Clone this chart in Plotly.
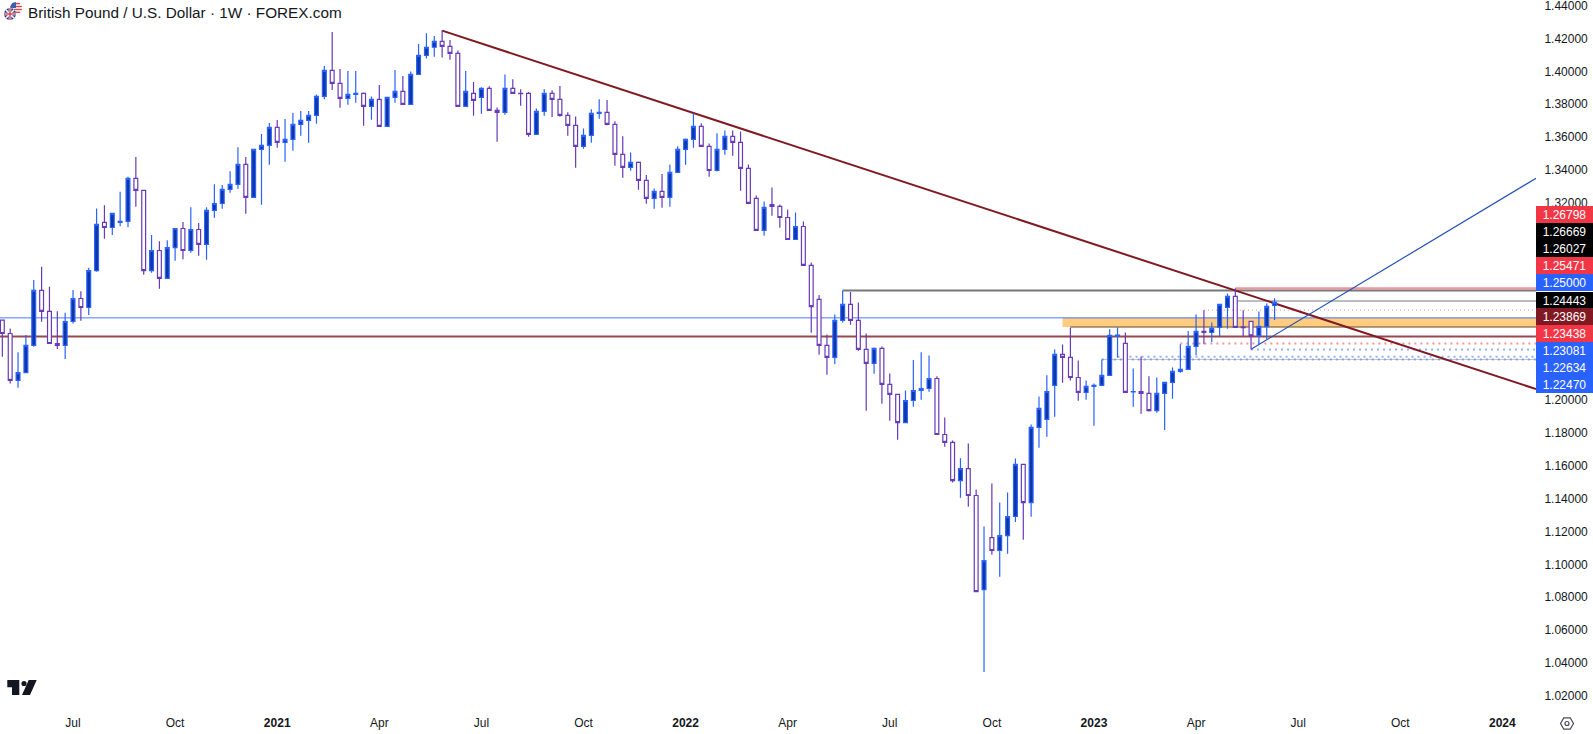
import math
import plotly.graph_objects as go
import pandas as pd

FIRST_WEEK = "2020-05-04"
opens = [
1.2486,1.2405,1.2119,1.2167,1.2332,1.2667,1.2539,1.2344,1.2332,1.2478,
1.2618,1.2563,1.2788,1.3081,1.3050,1.3081,1.3087,1.3349,1.3276,1.2788,
1.2910,1.2740,1.2928,1.3044,1.2910,1.3038,1.2947,1.3154,1.3196,1.3282,
1.3312,1.3434,1.3233,1.3525,1.3550,1.3659,1.3568,1.3586,1.3678,1.3702,
1.3732,1.3848,1.4006,1.3927,1.3836,1.3860,1.3866,1.3787,1.3830,1.3665,
1.3842,1.3879,1.3799,1.3982,1.4098,1.4147,1.4183,1.4153,1.4110,1.3787,
1.3866,1.3842,1.3897,1.3763,1.3751,1.3897,1.3866,1.3866,1.3617,1.3757,
1.3866,1.3830,1.3732,1.3672,1.3544,1.3611,1.3745,1.3751,1.3678,1.3495,
1.3416,1.3446,1.3337,1.3227,1.3270,1.3233,1.3385,1.3525,1.3586,1.3665,
1.3544,1.3397,1.3525,1.3605,1.3568,1.3410,1.3227,1.3032,1.3190,1.3178,
1.3111,1.2977,1.3056,1.2819,1.2612,1.2332,1.2259,1.2485,1.2582,1.2485,
1.2308,1.2223,1.2314,1.2095,1.2034,1.1863,1.1997,1.2058,1.2070,1.2131,
1.1790,1.1742,1.1510,1.1583,1.1419,1.0846,1.1163,1.1084,1.1175,1.1291,
1.1608,1.1376,1.1833,1.1882,1.2089,1.2278,1.2259,1.2137,1.2046,1.2083,
1.2089,1.2150,1.2389,1.2345,1.2050,1.2052,1.2040,1.1936,1.2040,1.2107,
1.2174,1.2186,1.2326,1.2418,1.2411,1.2442,1.2564,1.2631,1.2446,1.2479,
1.2391,1.2446,1.2576,
]
highs = [
1.2486,1.2435,1.2291,1.2395,1.2730,1.2811,1.2689,1.2541,1.2531,1.2669,
1.2662,1.2805,1.3166,1.3186,1.3136,1.3267,1.3359,1.3479,1.3276,1.3004,
1.2967,1.2973,1.3044,1.3083,1.3174,1.3077,1.3174,1.3314,1.3308,1.3393,
1.3539,1.3479,1.3525,1.3619,1.3686,1.3704,1.3710,1.3747,1.3759,1.3759,
1.3860,1.4033,1.4240,1.4015,1.4002,1.4002,1.3872,1.3848,1.3917,1.3842,
1.4008,1.3972,1.4000,1.4167,1.4232,1.4216,1.4250,1.4191,1.4128,1.4002,
1.3935,1.3903,1.3909,1.3781,1.3982,1.3952,1.3891,1.3875,1.3775,1.3891,
1.3885,1.3911,1.3751,1.3726,1.3653,1.3769,1.3830,1.3826,1.3696,1.3605,
1.3507,1.3452,1.3369,1.3288,1.3375,1.3434,1.3544,1.3592,1.3745,1.3684,
1.3562,1.3623,1.3641,1.3641,1.3635,1.3434,1.3245,1.3209,1.3294,1.3190,
1.3160,1.3142,1.3087,1.2837,1.2639,1.2399,1.2521,1.2667,1.2657,1.2594,
1.2405,1.2320,1.2326,1.2162,1.2034,1.2058,1.2243,1.2290,1.2271,1.2144,
1.1894,1.1754,1.1646,1.1736,1.1455,1.1230,1.1492,1.1376,1.1437,1.1644,
1.1608,1.1851,1.2022,1.2150,1.2308,1.2338,1.2442,1.2241,1.2119,1.2101,
1.2247,1.2430,1.2442,1.2411,1.2192,1.2265,1.2144,1.2137,1.2107,1.2198,
1.2340,1.2420,1.2521,1.2546,1.2472,1.2582,1.2649,1.2680,1.2547,1.2479,
1.2539,1.2588,1.2619,
]
lows = [
1.2263,1.2100,1.2074,1.2167,1.2324,1.2476,1.2344,1.2311,1.2250,1.2466,
1.2482,1.2518,1.2780,1.2981,1.3004,1.3058,1.3052,1.3176,1.2762,1.2774,
1.2677,1.2740,1.2847,1.2857,1.2896,1.2878,1.2853,1.3109,1.3164,1.3261,
1.3286,1.3134,1.3233,1.3188,1.3432,1.3535,1.3450,1.3517,1.3608,1.3566,
1.3682,1.3830,1.3887,1.3779,1.3797,1.3810,1.3669,1.3706,1.3665,1.3665,
1.3810,1.3799,1.3799,1.3982,1.4078,1.4090,1.4084,1.4071,1.3787,1.3787,
1.3730,1.3743,1.3763,1.3572,1.3737,1.3866,1.3791,1.3603,1.3617,1.3730,
1.3722,1.3724,1.3609,1.3414,1.3529,1.3566,1.3712,1.3672,1.3426,1.3353,
1.3395,1.3280,1.3195,1.3164,1.3170,1.3176,1.3385,1.3432,1.3535,1.3544,
1.3359,1.3391,1.3493,1.3487,1.3274,1.3197,1.3032,1.3000,1.3121,1.3048,
1.2977,1.2977,1.2819,1.2409,1.2276,1.2154,1.2217,1.2472,1.2458,1.2300,
1.1934,1.2160,1.1977,1.1874,1.1758,1.1863,1.1959,1.2001,1.2050,1.1790,
1.1715,1.1498,1.1405,1.1350,1.0834,1.0345,1.1058,1.0924,1.1064,1.1258,
1.1149,1.1289,1.1709,1.1776,1.1898,1.2105,1.2119,1.1995,1.2001,1.1843,
1.2089,1.2150,1.2259,1.2046,1.1959,1.1916,1.1930,1.1922,1.1817,1.2008,
1.2166,1.2186,1.2273,1.2340,1.2353,1.2387,1.2434,1.2442,1.2389,1.2308,
1.2340,1.2369,1.2487,
]
closes = [
1.2405,1.2119,1.2167,1.2332,1.2667,1.2539,1.2344,1.2332,1.2478,1.2618,
1.2563,1.2788,1.3069,1.3050,1.3136,1.3087,1.3349,1.3276,1.2788,1.2910,
1.2740,1.2928,1.3044,1.2910,1.3038,1.2947,1.3154,1.3196,1.3282,1.3312,
1.3434,1.3233,1.3525,1.3550,1.3659,1.3568,1.3586,1.3678,1.3702,1.3732,
1.3848,1.4006,1.3927,1.3836,1.3860,1.3866,1.3787,1.3830,1.3665,1.3842,
1.3878,1.3799,1.3982,1.4098,1.4147,1.4183,1.4153,1.4110,1.3787,1.3879,
1.3824,1.3897,1.3763,1.3751,1.3897,1.3866,1.3864,1.3617,1.3757,1.3866,
1.3830,1.3732,1.3672,1.3544,1.3611,1.3745,1.3751,1.3678,1.3495,1.3416,
1.3446,1.3337,1.3227,1.3270,1.3233,1.3385,1.3525,1.3586,1.3665,1.3544,
1.3397,1.3525,1.3605,1.3568,1.3410,1.3197,1.3032,1.3172,1.3178,1.3111,
1.2977,1.3056,1.2819,1.2569,1.2332,1.2259,1.2485,1.2582,1.2485,1.2308,
1.2223,1.2314,1.2095,1.2034,1.1863,1.1997,1.2058,1.2070,1.2131,1.1790,
1.1742,1.1510,1.1583,1.1419,1.0834,1.1023,1.1084,1.1175,1.1291,1.1608,
1.1376,1.1833,1.1949,1.2052,1.2278,1.2259,1.2137,1.2046,1.2083,1.2089,
1.2150,1.2393,1.2395,1.2046,1.2052,1.2040,1.1936,1.2040,1.2107,1.2174,
1.2186,1.2326,1.2418,1.2411,1.2436,1.2582,1.2631,1.2442,1.2440,1.2391,
1.2448,1.2570,1.2594,
]
weeks = pd.date_range(FIRST_WEEK, periods=len(opens), freq="7D").strftime("%Y-%m-%d").tolist()

y_tick_labels = ["1.02000","1.04000","1.06000","1.08000","1.10000","1.12000","1.14000","1.16000","1.18000","1.20000",
                 "1.32000","1.34000","1.36000","1.38000","1.40000","1.42000","1.44000"]
y_tick_values = [float(t) for t in y_tick_labels]
x_tick_dates = ["2020-07-06","2020-10-05","2021-01-04","2021-04-05","2021-07-05","2021-10-04",
                "2022-01-03","2022-04-04","2022-07-04","2022-10-03","2023-01-02","2023-04-03",
                "2023-07-03","2023-10-02","2024-01-01"]
x_tick_labels = ["Jul","Oct","<b>2021</b>","Apr","Jul","Oct","<b>2022</b>","Apr","Jul","Oct",
                 "<b>2023</b>","Apr","Jul","Oct","<b>2024</b>"]

X_START = "2020-05-01 22:00"
X_END = "2024-01-31"
Y_TOP, Y_BOTTOM = 1.44347, 1.01194

level_values = [1.26798, 1.26669, 1.26027, 1.25471, 1.25000, 1.24443, 1.23869, 1.23438, 1.23081, 1.22634, 1.22470, 1.22470]
level_starts = ["2023-05-08","2022-05-23","2023-05-10","2023-04-10",X_START,"2022-12-12",X_START,
                "2023-03-20","2023-05-22","2023-01-23","2023-01-09","2023-01-09"]
level_colors = ["rgba(242,54,69,0.55)","#787878","#787b86","rgba(242,54,69,0.6)","rgba(41,98,255,0.85)",
                "rgba(120,90,50,0.75)","rgba(128,25,34,0.8)","rgba(242,54,69,0.55)","rgba(41,98,255,0.5)",
                "rgba(41,98,255,0.5)","rgba(41,98,255,0.5)","rgba(120,123,134,0.45)"]
level_widths = [2, 2, 1, 1, 1, 1.5, 2, 2, 2, 2, 2, 1]
level_dashes = ["solid","solid","solid","1px,3px","solid","solid","solid","2px,4px","2px,4px","2px,4px","2px,4px","solid"]

zone_top, zone_bottom, zone_start = 1.25000, 1.24443, "2022-12-05"
trend_dates, trend_prices = ["2021-05-31", X_END], [1.4248, 1.2067]
rising_dates, rising_prices = ["2023-05-22", X_END], [1.2309, 1.33495]

label_texts = ["1.26798","1.26669","1.26027","1.25471","1.25000","1.24443","1.23869","1.23438","1.23081","1.22634","1.22470"]
label_colors = ["#f23645","#000000","#000000","#f23645","#2962ff","#000000","#801922","#f23645","#2962ff","#2962ff","#2962ff"]
label_tops = [206, 223, 240, 257, 274, 292, 308, 325, 342, 359, 376]

W, H = 1593, 734
def PX(v): return v / W
def PY(v): return 1 - v / H

FONT = "Liberation Sans"
TEXT = "#131722"

shapes = []
shapes.append(dict(type="rect", xref="x", yref="y", x0=zone_start, x1=X_END, y0=zone_bottom, y1=zone_top,
                   fillcolor="#ffcc80", line_width=0, layer="below"))
for v, s, c, w, d in zip(level_values, level_starts, level_colors, level_widths, level_dashes):
    shapes.append(dict(type="line", xref="x", yref="y", x0=s, x1=X_END, y0=v, y1=v,
                       line=dict(color=c, width=w, dash=d), layer="below"))
shapes.append(dict(type="line", xref="x", yref="y", x0=trend_dates[0], x1=trend_dates[1],
                   y0=trend_prices[0], y1=trend_prices[1], line=dict(color="#801922", width=2), layer="below"))
shapes.append(dict(type="line", xref="x", yref="y", x0=rising_dates[0], x1=rising_dates[1],
                   y0=rising_prices[0], y1=rising_prices[1], line=dict(color="#2350b4", width=1.2), layer="below"))

def path(points, close=True):
    s = "M " + " L ".join(f"{PX(a):.5f},{PY(b):.5f}" for a, b in points)
    return s + (" Z" if close else "")

def add_path(points, fill=None, line=None, width=0, close=True):
    shapes.append(dict(type="path", xref="paper", yref="paper", path=path(points, close),
                       fillcolor=fill if fill else "rgba(0,0,0,0)",
                       line=dict(color=line if line else "rgba(0,0,0,0)", width=width)))

def add_circle(cx, cy, r, fill=None, line=None, width=0):
    shapes.append(dict(type="circle", xref="paper", yref="paper", x0=PX(cx-r), x1=PX(cx+r), y0=PY(cy+r), y1=PY(cy-r),
                       fillcolor=fill if fill else "rgba(0,0,0,0)",
                       line=dict(color=line if line else "rgba(0,0,0,0)", width=width)))

LOGO = "#131722"
add_path([(7.3,680),(19.3,680),(19.3,695),(12,695),(12,687.3),(7.3,687.3)], fill=LOGO)
add_circle(24, 683.5, 2.6, fill=LOGO)
add_path([(28.7,680),(36.7,680),(30,695),(22,695)], fill=LOGO)

gx, gy = 1567, 723.5
add_path([(gx + 6.5*math.cos(math.radians(a)), gy + 6.5*math.sin(math.radians(a))) for a in range(0, 360, 60)],
         line="#4a4e59", width=1.2)
add_circle(gx, gy, 2, line="#4a4e59", width=1.2)

add_circle(16, 8, 6, fill="#f4f4f4")
for yy in (3.6, 6.5, 9.5, 12.3):
    half = math.sqrt(max(36 - (yy-8)**2, 0))
    add_path([(16-half, yy),(16+half, yy)], line="#e0434b", width=1.3, close=False)
add_path([(10.4,8),(10.8,5),(13,2.8),(16,2),(16,8)], fill="#3b5fa8")
add_circle(10, 14, 6, fill="#1f3f8f")
add_path([(5.8,9.8),(14.2,18.2)], line="#ffffff", width=1.6, close=False)
add_path([(14.2,9.8),(5.8,18.2)], line="#ffffff", width=1.6, close=False)
add_path([(10,8),(10,20)], line="#ffffff", width=2.6, close=False)
add_path([(4,14),(16,14)], line="#ffffff", width=2.6, close=False)
add_path([(10,8),(10,20)], line="#d8323c", width=1.3, close=False)
add_path([(4,14),(16,14)], line="#d8323c", width=1.3, close=False)

annotations = [dict(xref="paper", yref="paper", x=PX(26), y=PY(12), xanchor="left", yanchor="middle",
                    text="British Pound / U.S. Dollar · 1W · FOREX.com", showarrow=False,
                    font=dict(family=FONT, size=15.3, color=TEXT))]
for t, c, top in zip(label_texts, label_colors, label_tops):
    annotations.append(dict(xref="paper", yref="paper", x=PX(1536), y=PY(top), xanchor="left", yanchor="top",
                            width=57, height=17, align="center", valign="middle", text=t, showarrow=False,
                            bgcolor=c, borderpad=0, borderwidth=0,
                            font=dict(family=FONT, size=12, color="#ffffff")))

fig = go.Figure(go.Candlestick(
    x=weeks, open=opens, high=highs, low=lows, close=closes,
    increasing=dict(line=dict(color="#2962ff", width=1.2), fillcolor="#0d37a8"),
    decreasing=dict(line=dict(color="#673ab7", width=1.2), fillcolor="#ffffff"),
    whiskerwidth=0, showlegend=False,
))
fig.update_layout(
    width=W, height=H, margin=dict(l=0, r=0, t=0, b=0), autosize=False,
    paper_bgcolor="#ffffff", plot_bgcolor="#ffffff", showlegend=False,
    boxgap=0.3, boxgroupgap=0.3,
    shapes=shapes, annotations=annotations,
    xaxis=dict(domain=[0, 1536/W], type="date", range=[X_START, X_END], rangeslider=dict(visible=False),
               tickmode="array", tickvals=x_tick_dates, ticktext=x_tick_labels, showgrid=False, zeroline=False,
               showline=False, ticks="outside", ticklen=3, tickcolor="rgba(0,0,0,0)",
               tickfont=dict(family=FONT, size=12, color=TEXT)),
    yaxis=dict(domain=[1 - 709/H, 1], range=[Y_BOTTOM, Y_TOP], side="right", tickmode="array",
               tickvals=y_tick_values, ticktext=y_tick_labels, showgrid=False, zeroline=False,
               showline=False, ticks="outside", ticklen=5, tickcolor="rgba(0,0,0,0)", ticklabeloverflow="allow",
               tickfont=dict(family=FONT, size=12, color=TEXT)),
)
fig.write_html("out.html", config=dict(displayModeBar=False),
               post_script="document.body.style.margin='0';document.documentElement.style.overflow='hidden';")
